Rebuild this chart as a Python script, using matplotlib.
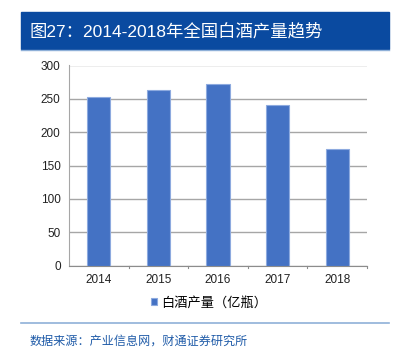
import matplotlib
matplotlib.use('Agg')
import matplotlib.pyplot as plt
from matplotlib.patches import Rectangle
from matplotlib.lines import Line2D

#Arial-like digits, CJK glyphs fall through to Noto
plt.rcParams['font.family'] = ['Liberation Sans', 'Noto Sans CJK SC', 'DejaVu Sans']

#chart data
years = ['2014', '2015', '2016', '2017', '2018']
output = [252, 263, 272, 241, 175]
y_ticks = [0, 50, 100, 150, 200, 250, 300]
title = '图27：2014-2018年全国白酒产量趋势'
legend_label = '白酒产量（亿瓶）'
source = '数据来源：产业信息网，财通证券研究所'

W, H = 398, 359
fig = plt.figure(figsize=(W / 100, H / 100), dpi=100)

#title bar
fig.patches.append(Rectangle((21 / W, 1 - 49 / H), 368 / W, 37 / H,
                             transform=fig.transFigure, color='#0A4AA0', zorder=0))
fig.lines.append(Line2D([21 / W, 389 / W], [1 - 50 / H, 1 - 50 / H],
                        transform=fig.transFigure, color='#8FB0D8', lw=1))
fig.text(30 / W, 1 - 31 / H, title, color='white', fontsize=12.5, va='center', ha='left')

#plot area
ax = fig.add_axes([69 / W, 1 - 265.5 / H, 298 / W, 200 / H])
x = range(len(years))
ax.bar(x, output, width=0.39, color='#4472C4', edgecolor='#8DAADF', linewidth=0.8,
       zorder=3, label=legend_label)
ax.set_xlim(-0.5, len(years) - 0.5)
ax.set_ylim(0, 300)
ax.set_yticks(y_ticks)
ax.set_xticks(list(x))
ax.set_xticklabels(years)
ax.tick_params(axis='both', length=0, labelsize=8.5, colors='#222222', pad=6)
ax.yaxis.grid(True, color='#A6A6A6', lw=1, zorder=0)
for s in ['top', 'right']:
    ax.spines[s].set_visible(False)
ax.spines['left'].set_color('#A6A6A6')
ax.spines['bottom'].set_color('#8C8C8C')
#small tick marks between categories
for b in [0.5, 1.5, 2.5, 3.5, 4.5]:
    ax.plot([b, b], [0, -3], color='#8C8C8C', lw=0.8, clip_on=False)

leg = fig.legend(loc='center', bbox_to_anchor=(209 / W, 1 - 303 / H), frameon=False,
                 fontsize=9.5, handlelength=0.45, handleheight=0.45, handletextpad=0.3)

#source line and text
fig.lines.append(Line2D([21 / W, 389 / W], [1 - 323 / H, 1 - 323 / H],
                        transform=fig.transFigure, color='#8FB0D8', lw=1.2))
fig.text(30 / W, 1 - 342 / H, source, color='#1F5BA8', fontsize=8.7, va='center', ha='left')

fig.savefig('out.png', dpi=100)
